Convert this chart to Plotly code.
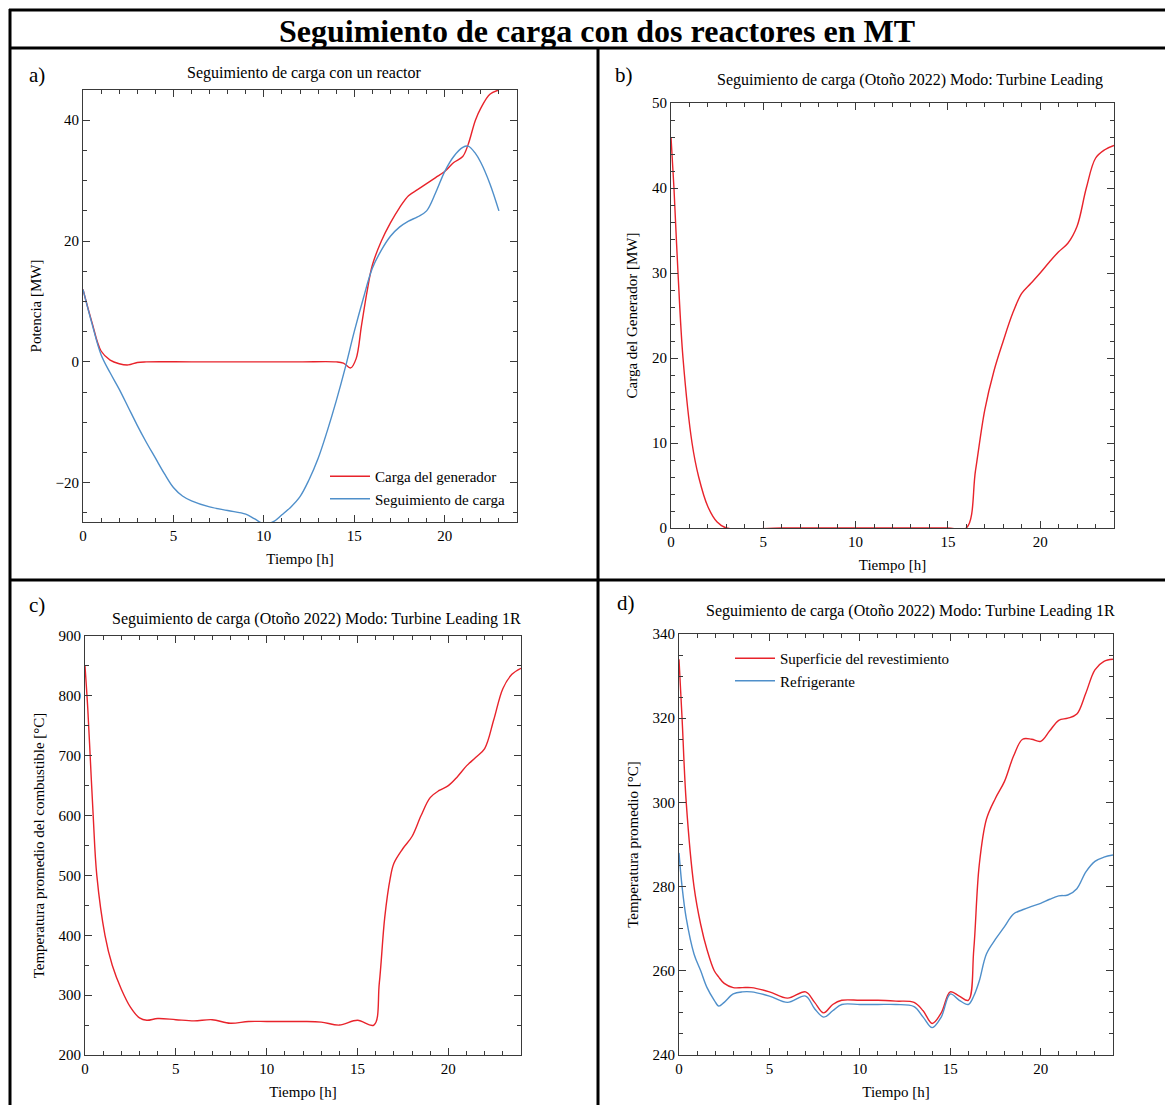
import plotly.graph_objects as go

# ---------------- data ----------------
# Panel a: Seguimiento de carga con un reactor
a_gen_t = [0, 0.5, 1, 1.5, 2, 2.5, 3, 3.5, 6, 9, 12, 14, 14.4, 14.8, 15.1, 15.4, 15.7, 16, 16.5, 17, 17.5, 18,
           18.5, 19, 19.5, 20, 20.5, 21, 21.3, 21.7, 22, 22.5, 23]
a_gen_v = [12, 6.5, 1.8, 0.3, -0.3, -0.5, -0.1, 0, 0, 0, 0, 0, -0.2, -1, 0.5, 6, 11.5, 16, 20, 23, 25.5, 27.5,
           28.5, 29.5, 30.5, 31.5, 33, 34, 36, 40, 42, 44.3, 45]
a_seg_t = [0, 0.5, 1, 1.5, 2, 2.5, 3, 3.5, 4, 4.5, 5, 5.5, 6, 7, 8, 9, 9.5, 10, 10.5, 11, 11.5, 12, 12.5, 13,
           13.5, 14, 14.5, 15, 15.5, 16, 16.5, 17, 17.5, 18, 18.5, 19, 19.5, 20, 20.5, 21, 21.3, 21.7, 22, 22.5, 23]
a_seg_v = [12, 6.3, 1.2, -1.8, -4.5, -7.5, -10.5, -13.3, -15.9, -18.5, -20.8, -22.2, -23, -24, -24.6, -25.2, -26,
           -26.8, -26.5, -25.3, -24, -22.3, -19.5, -16, -11.5, -6.5, -1, 5, 10.5, 15.5, 18.5, 20.8, 22.3, 23.3,
           24, 25, 28, 31.5, 34, 35.5, 35.7, 34.5, 33, 29.5, 25]

# Panel b: Carga del generador (Otoño 2022)
b_t = [0, 0.16, 0.38, 0.65, 1.14, 1.5, 2, 2.5, 3, 6, 9, 12, 15, 16, 16.5, 17, 17.5, 18, 18.5, 19, 19.5, 20,
       20.5, 21, 21.5, 22, 22.5, 23, 23.5, 24]
b_v = [46, 40, 30, 20, 10, 6, 2.5, 0.7, 0, 0, 0, 0, 0, 0, 6.8, 13.9, 18.5, 22, 25.2, 27.6, 28.8, 30,
       31.3, 32.5, 33.5, 35.5, 40, 43.5, 44.5, 45]

# Panel c: Temperatura promedio del combustible
c_t = [0, 0.15, 0.3, 0.45, 0.65, 1.1, 1.5, 2, 2.5, 3, 3.4, 4, 5, 6, 7, 8, 9, 10, 11, 12, 13, 14, 15, 15.9,
       16.2, 16.5, 16.8, 17, 17.5, 18, 18.5, 19, 19.5, 20, 20.5, 21, 21.5, 22, 22.5, 23, 23.5, 24]
c_v = [850, 780, 690, 600, 500, 400, 350, 310, 280, 262, 258, 261, 259, 257, 259, 253, 256, 256, 256, 256, 255,
       250, 258, 250, 320, 430, 495, 520, 545, 565, 600, 630, 642, 650, 665, 683, 697, 712, 760, 812, 836, 846]

# Panel d: Temperatura promedio
d_t = [0, 0.17, 0.4, 0.83, 1.2, 1.55, 1.95, 2.2, 2.5, 3, 3.5, 4, 5, 6, 7, 7.5, 8, 8.5, 9, 10, 11, 12, 13,
       13.5, 14, 14.5, 15, 15.5, 16, 16.3, 16.6, 17, 17.5, 18, 18.5, 19, 19.5, 20, 20.5, 21, 21.5, 22, 22.5,
       23, 23.5, 24]
d_sup = [334, 320, 300, 280, 271, 265, 260, 258.5, 257, 256, 256, 256, 255, 253.5, 255, 252.5, 250, 252, 253,
         253, 253, 252.8, 252.5, 250.5, 247.5, 250, 255, 254, 253, 265, 285, 296, 301, 305, 311, 315, 315,
         314.5, 317, 319.5, 320, 321, 326, 331.5, 333.5, 334]
d_ref = [288, 280, 272.5, 264, 260, 256, 253, 251.6, 252.5, 254.5, 255, 255, 254, 252.5, 254, 251, 249,
         250.5, 252, 252, 252, 252, 251.5, 249, 246.5, 249, 254.5, 253, 252, 254, 257.5, 264, 267.5, 270.5,
         273.5, 274.5, 275.3, 276, 277, 277.8, 278, 279.5, 283.5, 286, 287, 287.5]

titles = ["Seguimiento de carga con un reactor",
          "Seguimiento de carga (Otoño 2022) Modo: Turbine Leading",
          "Seguimiento de carga (Otoño 2022) Modo: Turbine Leading 1R",
          "Seguimiento de carga (Otoño 2022) Modo: Turbine Leading 1R"]
ytitles = ["Potencia [MW]", "Carga del Generador [MW]",
           "Temperatura promedio del combustible [°C]", "Temperatura promedio [°C]"]
xtitle = "Tiempo [h]"
main_title = "Seguimiento de carga con dos reactores en MT"
labels = ["a)", "b)", "c)", "d)"]

RED = "#e8232b"
BLUE = "#4f8fca"
OFF = 8                      # page body margin of the html page
W, H = 1173 - OFF, 1105 - OFF
FONT = "Liberation Serif, Times New Roman, serif"
AX = "#3a3a3a"


def px(x):
    return (x - OFF) / W


def py(y):
    return 1 - (y - OFF) / H


fig = go.Figure()

fig.add_trace(go.Scatter(x=a_gen_t, y=a_gen_v, mode="lines", line=dict(color=RED, width=1.4, shape="spline"),
                         name="Carga del generador", xaxis="x", yaxis="y", legend="legend"))
fig.add_trace(go.Scatter(x=a_seg_t, y=a_seg_v, mode="lines", line=dict(color=BLUE, width=1.4, shape="spline"),
                         name="Seguimiento de carga", xaxis="x", yaxis="y", legend="legend"))
fig.add_trace(go.Scatter(x=b_t, y=b_v, mode="lines", line=dict(color=RED, width=1.4, shape="spline"),
                         showlegend=False, xaxis="x2", yaxis="y2"))
fig.add_trace(go.Scatter(x=c_t, y=c_v, mode="lines", line=dict(color=RED, width=1.4, shape="spline"),
                         showlegend=False, xaxis="x3", yaxis="y3"))
fig.add_trace(go.Scatter(x=d_t, y=d_sup, mode="lines", line=dict(color=RED, width=1.4, shape="spline"),
                         name="Superficie del revestimiento", xaxis="x4", yaxis="y4", legend="legend2"))
fig.add_trace(go.Scatter(x=d_t, y=d_ref, mode="lines", line=dict(color=BLUE, width=1.4, shape="spline"),
                         name="Refrigerante", xaxis="x4", yaxis="y4", legend="legend2"))

# plot-area boxes in reference pixels: (left, right, top, bottom)
boxes = [(83, 517, 90, 522), (671, 1114, 103, 528), (85, 521, 636, 1055), (679, 1113, 634, 1055)]
yranges = [[-26.5, 45], [0, 50], [200, 900], [240, 340]]
ydticks = [20, 10, 100, 20]
yminor = [5, 2, 50, 5]


def axis_common():
    return dict(showline=True, linecolor=AX, linewidth=1.2, mirror="allticks", ticks="inside",
                ticklen=7, tickwidth=1, tickcolor=AX, showgrid=False, zeroline=False, automargin=False,
                tickfont=dict(family=FONT, size=15, color="black"),
                title_font=dict(family=FONT, size=15, color="black"))


layout = dict(width=W, height=H, margin=dict(l=0, r=0, t=0, b=0, pad=0, autoexpand=False),
              paper_bgcolor="white", plot_bgcolor="white", font=dict(family=FONT, color="black"),
              template="none")

for i, (l, r, t, b) in enumerate(boxes):
    sx = "" if i == 0 else str(i + 1)
    xa = axis_common()
    xa.update(domain=[px(l), px(r)], range=[0, 24], dtick=5, tick0=0, anchor="y" + sx,
              minor=dict(dtick=1, ticks="inside", ticklen=4, tickcolor=AX),
              title=dict(text=xtitle, standoff=10))
    ya = axis_common()
    ya.update(domain=[py(b), py(t)], range=yranges[i], dtick=ydticks[i], tick0=0, anchor="x" + sx,
              minor=dict(dtick=yminor[i], ticks="inside", ticklen=4, tickcolor=AX),
              title=dict(text=ytitles[i], standoff=10))
    layout["xaxis" + sx] = xa
    layout["yaxis" + sx] = ya

layout["legend"] = dict(x=px(325), y=py(460), xanchor="left", yanchor="top", bgcolor="rgba(0,0,0,0)",
                        font=dict(family=FONT, size=15, color="black"), tracegroupgap=0, itemwidth=40)
layout["legend2"] = dict(x=px(730), y=py(642), xanchor="left", yanchor="top", bgcolor="rgba(0,0,0,0)",
                         font=dict(family=FONT, size=15, color="black"), tracegroupgap=0, itemwidth=40)

annotations = [dict(text="<b>" + main_title + "</b>", x=px(597), y=py(31), xref="paper", yref="paper",
                    xanchor="center", yanchor="middle", showarrow=False,
                    font=dict(family=FONT, size=32, color="black"))]
title_pos = [(304, 73), (910, 80), (316, 619), (910, 611)]
for (x, y), tt in zip(title_pos, titles):
    annotations.append(dict(text=tt, x=px(x), y=py(y), xref="paper", yref="paper", showarrow=False,
                            xanchor="center", yanchor="middle",
                            font=dict(family=FONT, size=16, color="black")))
label_pos = [(37, 75), (624, 75), (37, 605), (626, 603)]
for (x, y), lb in zip(label_pos, labels):
    annotations.append(dict(text=lb, x=px(x), y=py(y), xref="paper", yref="paper", showarrow=False,
                            xanchor="center", yanchor="middle",
                            font=dict(family=FONT, size=21, color="black")))
layout["annotations"] = annotations

LW = 3
shapes = [
    dict(type="line", x0=px(9), x1=1.01, y0=py(10), y1=py(10)),
    dict(type="line", x0=px(10), x1=px(10), y0=py(9), y1=-0.01),
    dict(type="line", x0=px(9), x1=1.01, y0=py(48), y1=py(48)),
    dict(type="line", x0=px(598), x1=px(598), y0=py(48), y1=-0.01),
    dict(type="line", x0=px(9), x1=1.01, y0=py(580), y1=py(580)),
]
for s in shapes:
    s.update(xref="paper", yref="paper", line=dict(color="black", width=LW))
layout["shapes"] = shapes

fig.update_layout(**layout)
fig.write_html("out.html")
